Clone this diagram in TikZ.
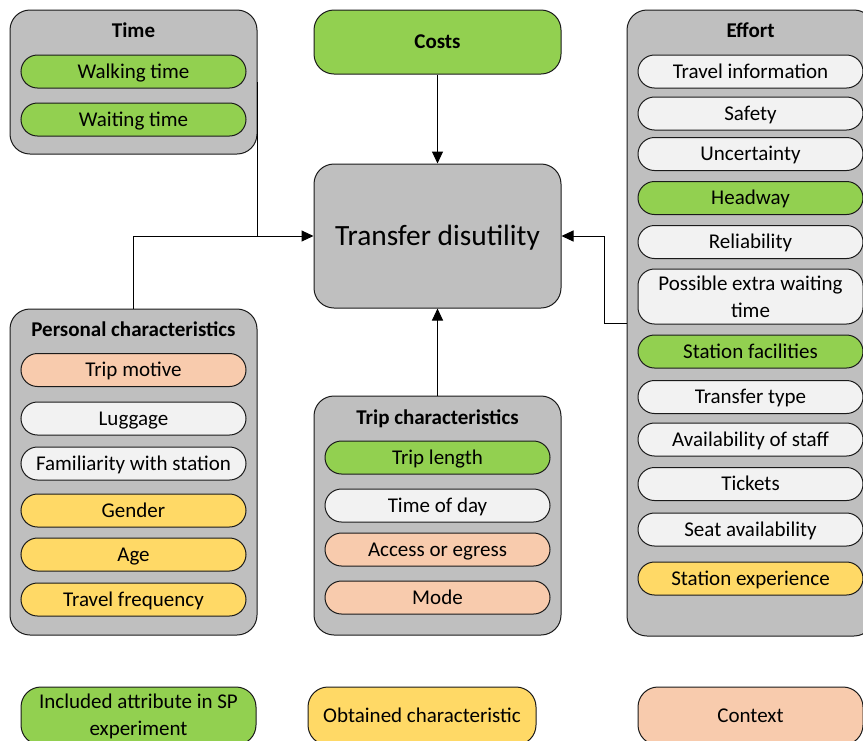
\documentclass[tikz,border=0pt]{standalone}
\usepackage{fontspec}
\setmainfont{Carlito}
\usetikzlibrary{arrows.meta}
\definecolor{cgreen}{HTML}{92D050}
\definecolor{cgray}{HTML}{BFBFBF}
\definecolor{cwhite}{HTML}{F2F2F2}
\definecolor{cyellow}{HTML}{FFD966}
\definecolor{corange}{HTML}{F8CBAD}
\definecolor{cline}{HTML}{1A1A1A}
\tikzset{
  grp/.style={draw=cline, line width=1pt, fill=cgray, rounded corners=20pt, minimum width=247pt, inner sep=0pt},
  ttl/.style={font=\fontsize{21}{25}\selectfont\bfseries, inner sep=0pt, text height=17.6pt, text depth=4pt},
  pillbase/.style={draw=cline, line width=1pt, rounded corners=16.5pt, minimum width=225pt, minimum height=33pt, inner sep=0pt, align=center, font=\fontsize{21}{27}\selectfont},
  pill/.style={pillbase, text height=17.6pt, text depth=4pt},
  pw/.style={pill, fill=cwhite},
  pg/.style={pill, fill=cgreen},
  py/.style={pill, fill=cyellow},
  po/.style={pill, fill=corange},
  leg/.style={draw=cline, line width=1pt, rounded corners=20pt, minimum height=58pt, inner sep=0pt, align=center, font=\fontsize{21}{27}\selectfont},
  conn/.style={draw=black, line width=1pt},
  arr/.style={conn, -{Triangle[length=12pt,width=11pt]}}
}
\begin{document}
\begin{tikzpicture}[x=1pt,y=-1pt]
\useasboundingbox (0,0) rectangle (863,740);
\clip (0,0) rectangle (863,740);

% Time
\node[grp, minimum height=144pt] (time) at (133.5,82) {};
\node[ttl] (timet) at (133.5,31) {Time};
\node[pg] (walk) at (133.5,71.5) {Walking time};
\node[pg] (wait) at (133.5,119.5) {Waiting time};

% Costs
\node[grp, fill=cgreen, minimum height=64pt, font=\fontsize{21}{25}\selectfont\bfseries, text height=17.6pt, text depth=4pt] (costs) at (437.5,42) {Costs};

% Transfer disutility
\node[grp, minimum height=144pt, font=\fontsize{29.4}{34}\selectfont, text height=24pt, text depth=5.1pt] (td) at (437.5,236) {Transfer disutility};

% Effort
\node[grp, minimum height=626pt] (effort) at (750.5,323) {};
\node[ttl] (efft) at (750.5,31) {Effort};
\node[pw] (e1) at (750.5,71.5) {Travel information};
\node[pw] (e2) at (750.5,113.5) {Safety};
\node[pw] (e3) at (750.5,154) {Uncertainty};
\node[pg] (e4) at (750.5,198) {Headway};
\node[pw] (e5) at (750.5,242) {Reliability};
\node[pillbase, fill=cwhite, minimum height=55pt] (e6) at (750.5,296.5) {Possible extra waiting\\time};
\node[pg] (e7) at (750.5,351.5) {Station facilities};
\node[pw] (e8) at (750.5,397) {Transfer type};
\node[pw] (e9) at (750.5,439.5) {Availability of staff};
\node[pw] (e10) at (750.5,484) {Tickets};
\node[pw] (e11) at (750.5,529.5) {Seat availability};
\node[py] (e12) at (750.5,578.5) {Station experience};

% Personal characteristics
\node[grp, minimum height=326pt] (pers) at (133.5,472) {};
\node[ttl] (perst) at (133.5,330) {Personal characteristics};
\node[po] (p1) at (133.5,370) {Trip motive};
\node[pw] (p2) at (133.5,418.5) {Luggage};
\node[pw] (p3) at (133.5,463.5) {Familiarity with station};
\node[py] (p4) at (133.5,510.5) {Gender};
\node[py] (p5) at (133.5,554.5) {Age};
\node[py] (p6) at (133.5,599.5) {Travel frequency};

% Trip characteristics
\node[grp, minimum height=239pt] (trip) at (437.5,515.5) {};
\node[ttl] (tript) at (437.5,418) {Trip characteristics};
\node[pg] (t1) at (437.5,457.5) {Trip length};
\node[pw] (t2) at (437.5,505.5) {Time of day};
\node[po] (t3) at (437.5,549.5) {Access or egress};
\node[po] (t4) at (437.5,597.5) {Mode};

% Legend
\node[leg, fill=cgreen, minimum width=235pt] (lg) at (138.5,716) {Included attribute in SP\\experiment};
\node[leg, fill=cyellow, minimum width=228pt, text height=17.6pt, text depth=4pt] (ly) at (422,716) {Obtained characteristic};
\node[leg, fill=corange, minimum width=225pt, text height=17.6pt, text depth=4pt] (lo) at (750.5,716) {Context};

% Connectors
\coordinate (jn) at (time.east |- td.west);
\draw[arr] (costs) -- (td);
\draw[arr] (time.east) -- (jn) -- (td.west);
\draw[conn] (pers.north) |- (jn);
\draw[arr] (trip.north) -- (td.south);
\coordinate (ej) at (604,323);
\draw[arr] (effort.west) -- (ej) |- (td.east);
\end{tikzpicture}
\end{document}
